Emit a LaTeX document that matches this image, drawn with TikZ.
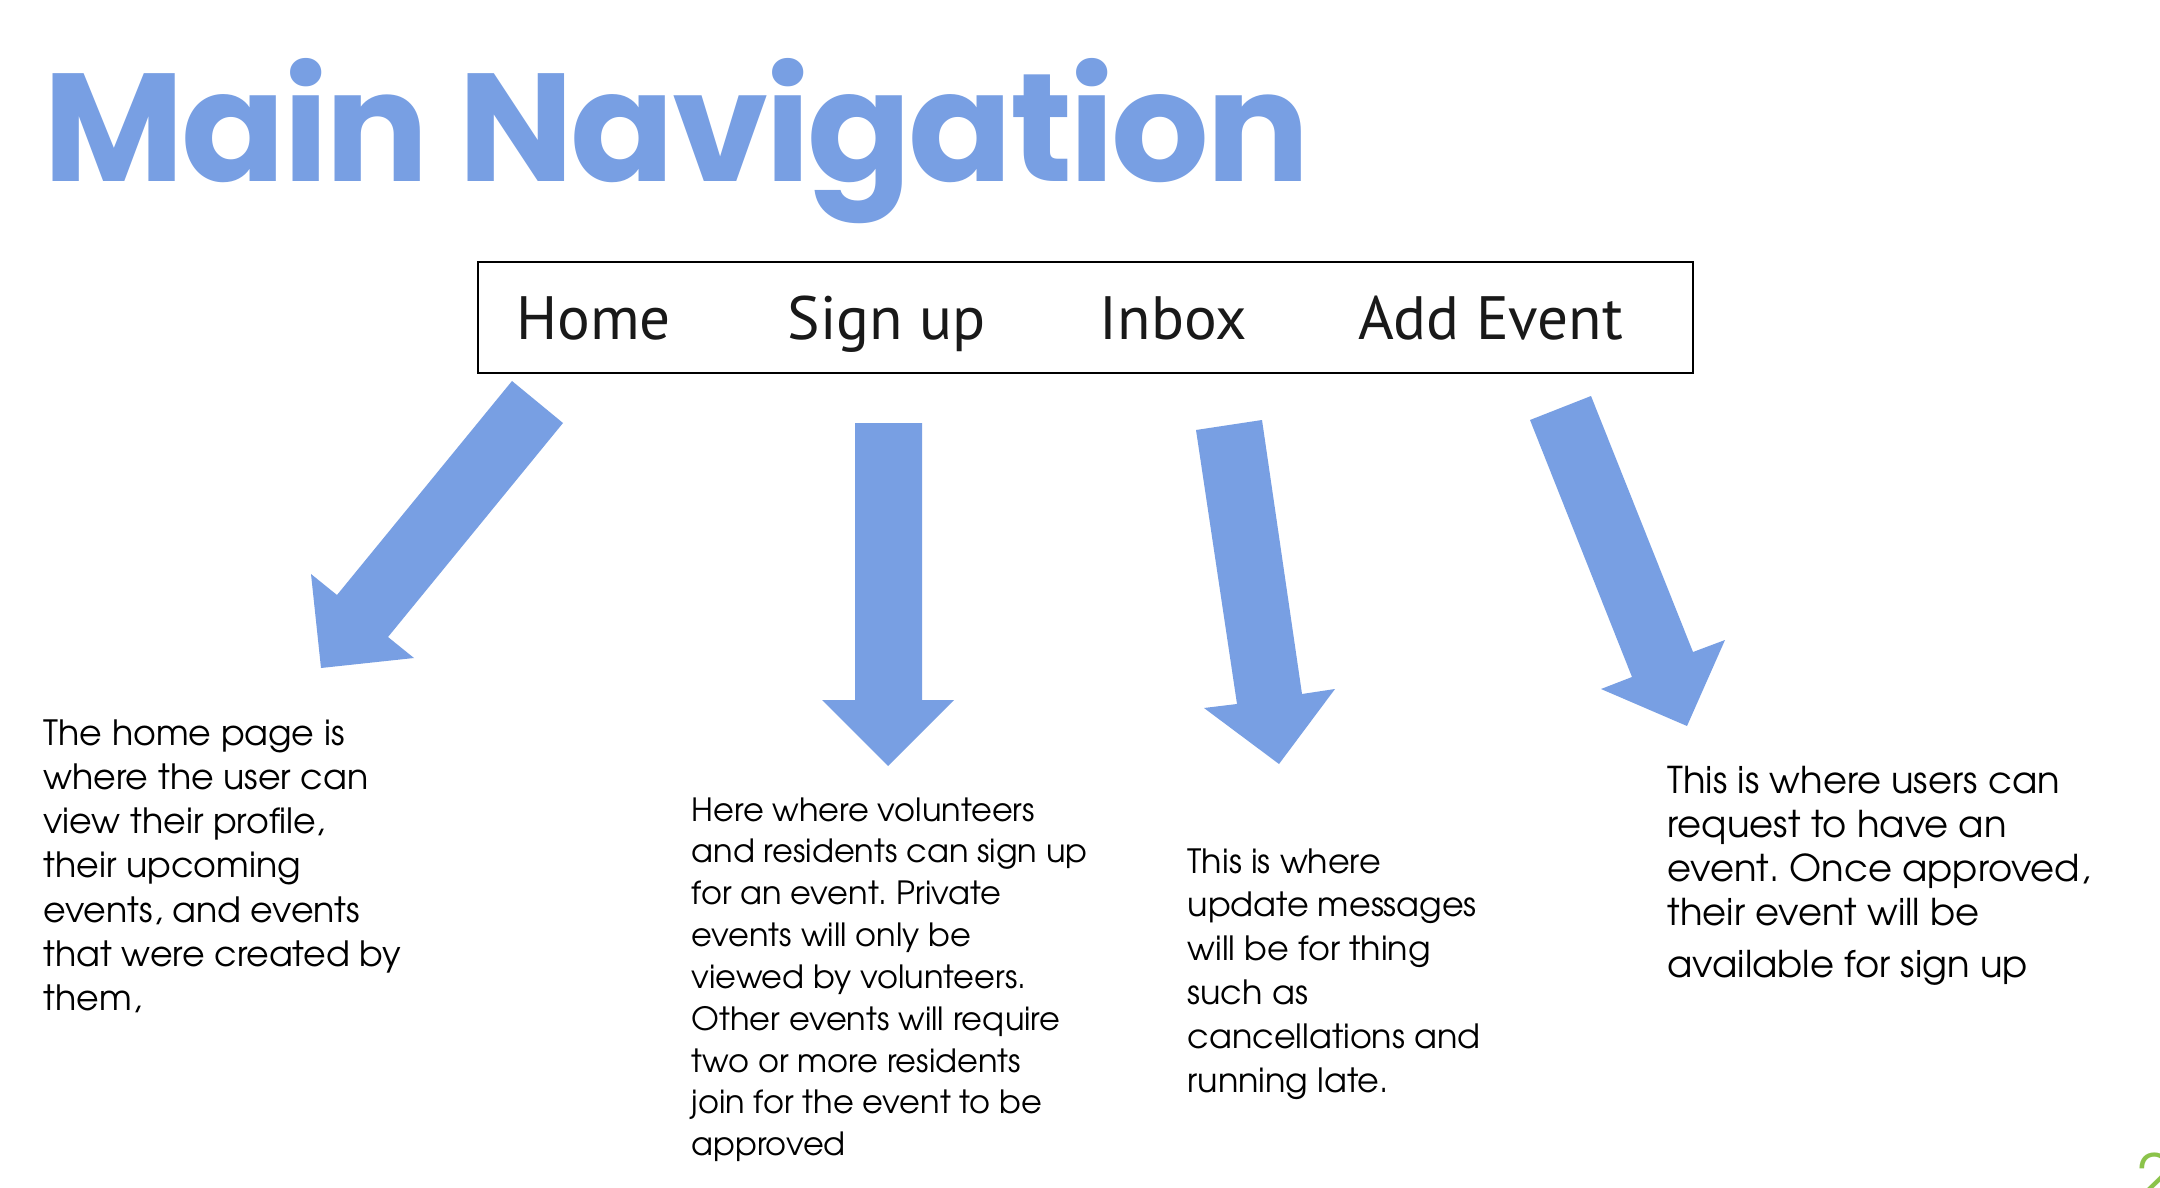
\documentclass[tikz,border=0pt]{standalone}
\usepackage{fontspec}
\newfontfamily\bodyfont{texgyreadventor-regular.otf}
\newfontfamily\titlefont{Poppins}[LetterSpace=-2]
\newfontfamily\navfont{PT Sans}
\definecolor{navblue}{RGB}{120,159,227}
\definecolor{pagegreen}{RGB}{139,195,74}
\definecolor{navgray}{RGB}{25,25,25}
\frenchspacing
\tikzset{
  bigarrow/.style={fill=navblue},
  navtext/.style={anchor=base, inner sep=0pt, font=\navfont\fontsize{17.4}{20}\selectfont, text=navgray},
  desc/.style={anchor=base west, inner sep=0pt, text=black},
}
\begin{document}
\begin{tikzpicture}[x=0.01cm,y=-0.01cm]
\clip (0,0) rectangle (2160,1188);
\fill[white] (0,0) rectangle (2160,1188);
% title
\node[anchor=base west, inner sep=0pt, text=navblue, font=\titlefont\bfseries\fontsize{43.7}{46}\selectfont] (title) at (43,182) {Main Navigation};
% nav bar
\draw[black, line width=0.7pt] (478,262) rectangle (1693,373);
\node[navtext] (home) at (593.5,340) {Home};
\node[navtext] (signup) at (886.5,340) {Sign up};
\node[navtext] (inbox) at (1173.5,340) {Inbox};
\node[navtext] (addevent) at (1490.5,340) {Add Event};
% arrows
\fill[bigarrow] (512,381) -- (563,423) -- (388,637) -- (414,658) -- (321,668) -- (311,574) -- (337,595) -- cycle;
\fill[bigarrow] (855,423) -- (922,423) -- (922,700) -- (954,700) -- (888,766) -- (822,700) -- (855,700) -- cycle;
\fill[bigarrow] (1196,430) -- (1262,420) -- (1302,694) -- (1335,689) -- (1279,764) -- (1204,708) -- (1237,704) -- cycle;
\fill[bigarrow] (1530,420) -- (1591,396) -- (1693,652) -- (1725,640) -- (1687,726) -- (1601,689) -- (1632,677) -- cycle;
% descriptions
\node[desc, font=\bodyfont\fontsize{9.9}{12.6}\selectfont] (homedesc) at (43,745) {\parbox[t]{5cm}{\raggedright
The home page is\\ where the user can\\ view their profile,\\ their upcoming\\ events, and events\\ that were created by\\ them,}};
\node[desc, font=\bodyfont\fontsize{9.1}{11.9}\selectfont] (signupdesc) at (691,821) {\parbox[t]{5cm}{\raggedright
Here where volunteers\\ and residents can sign up\\ for an event. Private\\ events will only be\\ viewed by volunteers.\\ Other events will require\\ two or more residents\\ join for the event to be\\ approved}};
\node[desc, font=\bodyfont\fontsize{9.5}{12.5}\selectfont] (inboxdesc) at (1187,873) {\parbox[t]{5cm}{\raggedright
This is where\\ update messages\\ will be for thing\\ such as\\ cancellations and\\ running late.}};
\node[desc, font=\bodyfont\fontsize{10.5}{12.6}\selectfont] (adddesc) at (1667,793) {\parbox[t]{5cm}{\raggedright
This is where users can\\ request to have an\\ event. Once approved,\\ their event will be\\[2pt] available for sign up}};
% page number
\node[anchor=base west, inner sep=0pt, text=pagegreen, font=\bodyfont\fontsize{18}{20}\selectfont] (pagenum) at (2137,1200) {2};
\end{tikzpicture}
\end{document}
